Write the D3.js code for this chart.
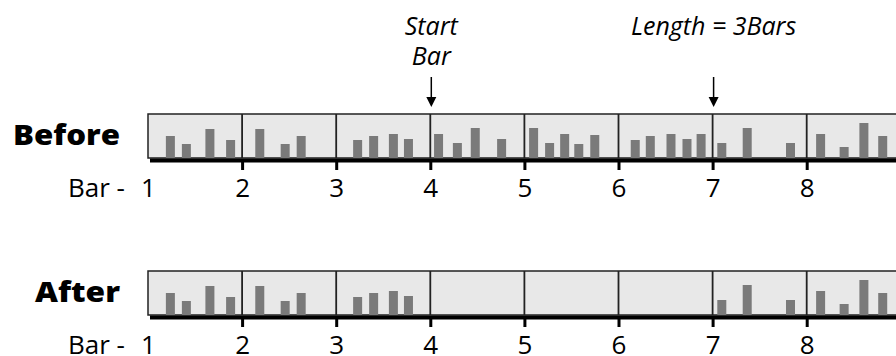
<!DOCTYPE html>
<html>
<head>
<meta charset="utf-8">
<script src="https://cdn.jsdelivr.net/npm/d3@7"></script>
<style>
	body {margin: 0; background: #fff}
	svg {display: block}
	text {font-family: "Open Sans", "Noto Sans", sans-serif; fill: #000}
</style>
</head>
<body>
<svg width="896" height="356"></svg>
<script>
'use strict';
// data
let barNums = [1, 2, 3, 4, 5, 6, 7, 8]
let rowNames = ["Before", "After"]
// note start positions, in bars
let notePos = [1.19, 1.36, 1.61, 1.83,
	2.14, 2.41, 2.58,
	3.18, 3.35, 3.56, 3.72,
	4.04, 4.24, 4.43, 4.71,
	5.05, 5.22, 5.38, 5.53, 5.70,
	6.13, 6.29, 6.51, 6.68, 6.83,
	7.05, 7.32, 7.78,
	8.10, 8.35, 8.56, 8.76]
// note levels
let noteLevel = [22, 14, 29, 18,
	29, 14, 22,
	18, 22, 24, 19,
	24, 15, 30, 19,
	30, 15, 24, 14, 23,
	18, 22, 24, 19, 24,
	15, 30, 15,
	24, 11, 35, 22]
let startBar = 4, lengthBars = 3
let callouts = [
	{bar: startBar, lines: ["Start", "Bar"]},
	{bar: startBar + lengthBars, lines: ["Length = 3Bars"]}]

let tNotes = notePos.map((p, i) => {return {pos: p, level: noteLevel[i]}})
let rowNotes = [
	tNotes,
	tNotes.filter(d => {return d.pos < startBar || d.pos >= startBar + lengthBars})]

// DOM references
let eSvg = d3.select("svg"),
	dWidth = +eSvg.attr("width")

let dBoxTop = [114, 271], dBoxH = 44
let x = d3.scaleLinear().domain([1, 9]).range([148, 900.8])
let h = d3.scaleLinear().domain([0, 44]).range([0, 44])

rowNames.forEach((name, r) => {
	let top = dBoxTop[r], bot = top + dBoxH
	let g = eSvg.append("g")

	// grey strip
	g.append("rect")
		.attr("x", x(1)).attr("y", top)
		.attr("width", dWidth + 20 - x(1)).attr("height", dBoxH)
		.attr("fill", "#e8e8e8").attr("stroke", "#222").attr("stroke-width", 1.5)

	// notes
	g.selectAll("rect.note")
		.data(rowNotes[r])
		.enter().append("rect")
		.attr("class", "note")
		.attr("x", d => {return x(d.pos)})
		.attr("width", 9)
		.attr("y", d => {return bot - h(d.level)})
		.attr("height", d => {return h(d.level)})
		.attr("fill", "#7a7a7a")

	// bar lines in the strip
	g.selectAll("line.bl")
		.data(barNums.slice(1))
		.enter().append("line")
		.attr("x1", d => {return x(d)}).attr("x2", d => {return x(d)})
		.attr("y1", top).attr("y2", bot)
		.attr("stroke", "#222").attr("stroke-width", 1.8)

	// heavy bottom rule
	g.append("rect")
		.attr("x", x(1) + 2).attr("y", bot + 0.5)
		.attr("width", dWidth - x(1)).attr("height", 4)
		.attr("fill", "#000")

	// axis with bar numbers
	let eAxis = g.append("g")
		.attr("transform", `translate(0,${bot + 4})`)
		.call(d3.axisBottom(x).tickValues(barNums).tickSize(8).tickPadding(9))
	eAxis.select(".domain").remove()
	eAxis.selectAll(".tick line")
		.attr("stroke", "#000").attr("stroke-width", 3)
		.filter(d => {return d === 1}).remove()
	eAxis.selectAll(".tick text")
		.attr("font-family", "Open Sans, Noto Sans, sans-serif")
		.attr("font-size", 26).attr("fill", "#000")

	g.append("text")
		.attr("x", 125).attr("y", bot + 38.5)
		.attr("text-anchor", "end")
		.attr("font-size", 26)
		.text("Bar -")

	// row label
	g.append("text")
		.attr("x", 120).attr("y", top + 31)
		.attr("text-anchor", "end")
		.attr("font-size", 28).attr("font-weight", 800)
		.attr("textLength", r === 0 ? 107 : 85)
		.attr("lengthAdjust", "spacingAndGlyphs")
		.text(name)
})

// callouts with arrows
let eCall = eSvg.selectAll("g.call")
	.data(callouts)
	.enter().append("g")
	.attr("class", "call")
eCall.each(function (d) {
	let cx = x(d.bar) + 1
	let sel = d3.select(this)
	d.lines.forEach((t, i) => {
		sel.append("text")
			.attr("x", cx).attr("y", 35 + i * 30)
			.attr("text-anchor", "middle")
			.attr("font-size", 25).attr("font-style", "italic")
			.text(t)})
	sel.append("line")
		.attr("x1", cx).attr("x2", cx)
		.attr("y1", 77).attr("y2", 100)
		.attr("stroke", "#000").attr("stroke-width", 1.5)
	sel.append("path")
		.attr("d", `M${cx - 5},97 L${cx + 5},97 L${cx},107 Z`)
		.attr("fill", "#000")
})
</script>
</body>
</html>
